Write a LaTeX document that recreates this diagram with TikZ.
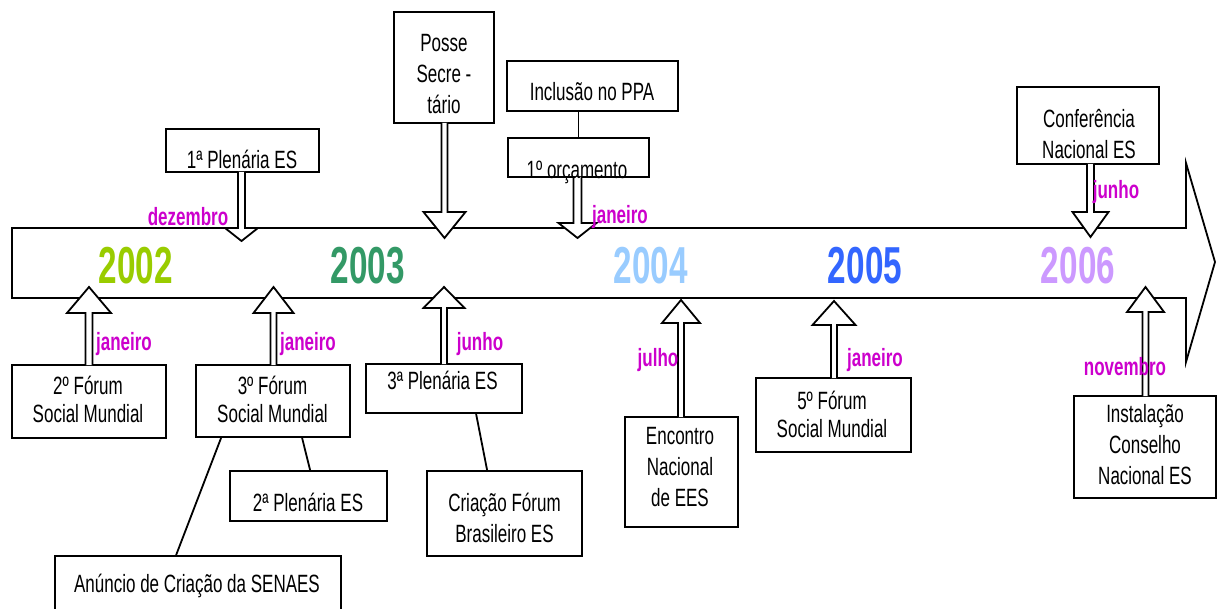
\documentclass[tikz,border=0pt]{standalone}
\usepackage{fontspec}
\setmainfont{Liberation Sans}[FakeStretch=0.68]
\newfontfamily\yearfont{Liberation Sans}[FakeStretch=0.64]
\usetikzlibrary{calc}
\definecolor{yrA}{RGB}{153,204,0}
\definecolor{yrB}{RGB}{51,153,102}
\definecolor{yrC}{RGB}{153,204,255}
\definecolor{yrD}{RGB}{51,102,255}
\definecolor{yrE}{RGB}{204,153,255}
\definecolor{monthc}{RGB}{204,0,204}
\tikzset{
  evbox/.style={draw, line width=1.8pt, fill=white, inner sep=0pt, rectangle},
  evtext/.style={font=\fontsize{25}{31}\selectfont, align=center, inner sep=0pt},
  forumtext/.style={font=\fontsize{25}{28}\selectfont, align=center, inner sep=0pt},
  month/.style={font=\fontsize{25}{30}\selectfont\bfseries, text=monthc, inner sep=0pt},
  yearlbl/.style={font=\yearfont\fontsize{52}{52}\selectfont\bfseries, inner sep=0pt},
  conn/.style={draw, line width=1.8pt},
  blockarrow/.style={draw, line width=1.8pt, fill=white, line join=miter},
  timebody/.style={draw, line width=1.8pt, fill=white},
}
\newcommand{\evb}[5]{\node[evbox, minimum width={#4pt-#2pt}, minimum height={#5pt-#3pt}] (#1) at ({(#2+#4)/2},{(#3+#5)/2}) {};}
% x, start, head base, tip, shaft half width, head half width
\newcommand{\barrw}[6]{\path[blockarrow] ({#1-#5},#2) -- ({#1-#5},#3) -- ({#1-#6},#3) -- (#1,#4) -- ({#1+#6},#3) -- ({#1+#5},#3) -- ({#1+#5},#2);}
\begin{document}
\begin{tikzpicture}[x=1pt,y=-1pt]
\useasboundingbox (0,0) rectangle (1217,609);
% timeline body
\path[timebody] (12,228) -- (1186,228) -- (1186,163) -- (1215,262) -- (1186,362) -- (1186,298) -- (12,298) -- cycle;
% years
\node[yearlbl, text=yrA] (y2002) at (136,266) {2002};
\node[yearlbl, text=yrB] (y2003) at (368,266) {2003};
\node[yearlbl, text=yrC] (y2004) at (651,266) {2004};
\node[yearlbl, text=yrD] (y2005) at (865,266) {2005};
\node[yearlbl, text=yrE] (y2006) at (1078,266) {2006};
% boxes
\evb{pa}{166}{129}{319}{172}
\evb{ps}{394}{12}{494}{123}
\evb{inc}{507}{61}{678}{111}
\evb{orc}{508}{138}{649}{177}
\evb{cn}{1017}{87}{1159}{164}
\evb{fa}{12}{365}{166}{438}
\evb{fb}{196}{365}{350}{437}
\evb{pb}{230}{471}{387}{521}
\evb{an}{55}{556}{341}{614}
\evb{pc}{366}{364}{522}{413}
\evb{cf}{427}{471}{582}{556}
\evb{en}{625}{417}{738}{527}
\evb{fc}{756}{378}{911}{452}
\evb{ic}{1074}{396}{1216}{498}
% thin connectors
\draw[conn] (orc.north |- inc.south) -- (orc.north);
\draw[conn] ($(fb.south west)+(26,0)$) -- ($(an.north west)+(122,0)$);
\draw[conn] ($(fb.south west)+(107,0)$) -- ($(pb.north west)+(81,0)$);
\draw[conn] ($(pc.south west)+(111,0)$) -- ($(cf.north west)+(61,0)$);
% block arrows
\barrw{241.5}{172}{228}{241}{3.5}{16.5}
\barrw{444.5}{123}{212}{238}{3}{21}
\barrw{577.5}{177}{223}{238}{4}{19}
\barrw{1090.5}{164}{212}{237}{3.5}{18}
\barrw{89}{365}{313}{287}{3.5}{22}
\barrw{273.5}{365}{313}{287}{3}{20}
\barrw{444}{364}{308}{287}{3}{20.5}
\barrw{681}{417}{323}{300}{3}{19}
\barrw{834}{378}{325}{301}{3}{21.5}
\barrw{1145.5}{396}{312}{287}{3}{18.5}
% box texts
\node[evtext] (tpa) at (242,159) {1ª Plenária ES};
\node[evtext] (tps) at (444,74) {Posse\\Secre -\\tário};
\node[evtext] (tinc) at (592,92) {Inclusão no PPA};
\node[evtext] (torc) at (577,172) {1º orçamento};
\node[evtext] (tcn) at (1089,134) {Conferência\\Nacional ES};
\node[forumtext] (tfa) at (88,399) {2º Fórum\\Social Mundial};
\node[forumtext] (tfb) at (272.5,399) {3º Fórum\\Social Mundial};
\node[evtext] (tpb) at (308,502) {2ª Plenária ES};
\node[evtext] (tan) at (197,586) {Anúncio de Criação da SENAES};
\node[evtext] (tpc) at (442.5,380) {3ª Plenária ES};
\node[evtext] (tcf) at (504.5,518) {Criação Fórum\\Brasileiro ES};
\node[evtext] (ten) at (680,467) {Encontro\\Nacional\\de EES};
\node[forumtext] (tfc) at (832,414) {5º Fórum\\Social Mundial};
\node[evtext] (tic) at (1145,445) {Instalação\\Conselho\\Nacional ES};
% months
\node[month] (m1) at (188,217) {dezembro};
\node[month] (m2) at (620,217) {janeiro};
\node[month] (m3) at (1116,192) {junho};
\node[month] (m4) at (124,344) {janeiro};
\node[month] (m5) at (308,344) {janeiro};
\node[month] (m6) at (480,344) {junho};
\node[month] (m7) at (658,360) {julho};
\node[month] (m8) at (875,360) {janeiro};
\node[month] (m9) at (1125,367) {novembro};
\end{tikzpicture}
\end{document}
